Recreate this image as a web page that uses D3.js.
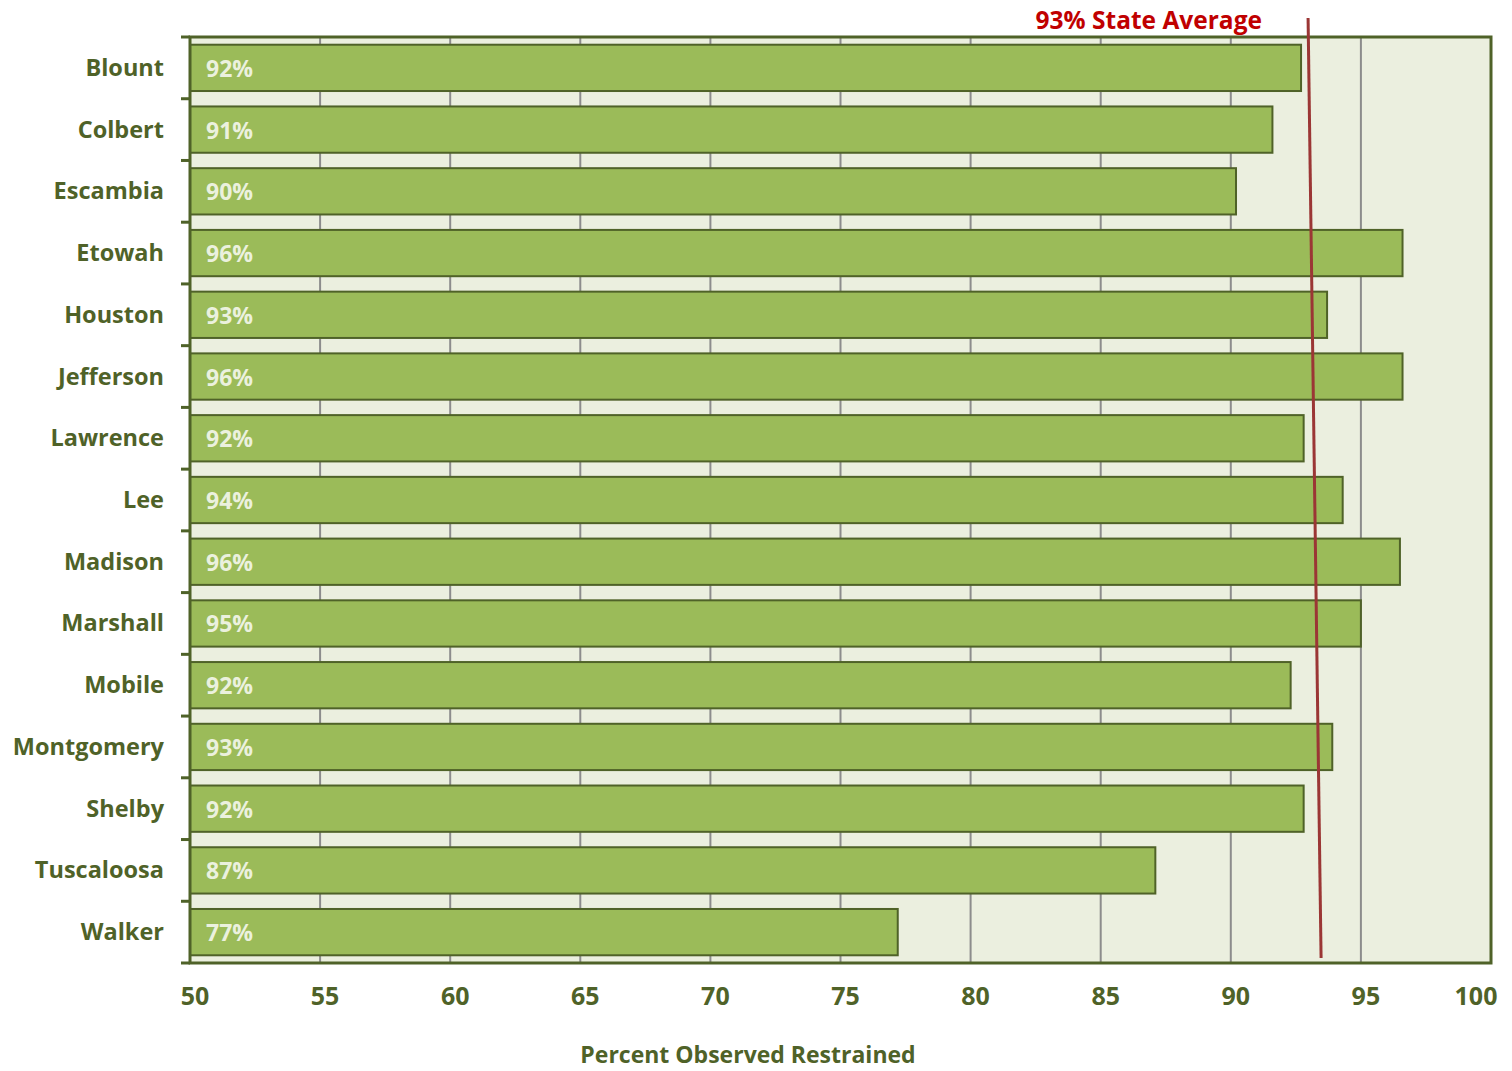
<!DOCTYPE html>
<html lang="en">
<head>
<meta charset="UTF-8">
<title>Percent Observed Restrained</title>
<script src="https://d3js.org/d3.v7.min.js"></script>
<style>
  body { margin:0; background:#fff; }
  text { font-family:"Open Sans", sans-serif; font-weight:bold; }
</style>
</head>
<body>
<div id="chart"></div>
<script>
// counties, top to bottom
var counties = ["Blount","Colbert","Escambia","Etowah","Houston","Jefferson","Lawrence","Lee",
                "Madison","Marshall","Mobile","Montgomery","Shelby","Tuscaloosa","Walker"];
// percent observed restrained
var rates = [92.7, 91.6, 90.2, 96.6, 93.7, 96.6, 92.8, 94.3, 96.5, 95.0, 92.3, 93.9, 92.8, 87.1, 77.2];
var xTicks = [50,55,60,65,70,75,80,85,90,95,100];
// the state average line is drawn slightly slanted in the original
var avgTop = 92.97, avgBottom = 93.47;
var avgLabel = "93% State Average";

var W = 1512, H = 1071;
var pLeft = 190, pRight = 1491, pTop = 37, pBottom = 963;

var svg = d3.select("#chart").append("svg").attr("width", W).attr("height", H);

var x = d3.scaleLinear().domain([50,100]).range([pLeft, pRight]);
var y = d3.scaleBand().domain(counties).range([pTop, pBottom]).paddingInner(0.25).paddingOuter(0.125);

// plot background
svg.append("rect").attr("x", pLeft).attr("y", pTop).attr("width", pRight-pLeft).attr("height", pBottom-pTop)
  .attr("fill", "#ebefdf");

// vertical gridlines
svg.append("g").selectAll("line").data(xTicks.slice(1, -1)).enter().append("line")
  .attr("x1", d => x(d)).attr("x2", d => x(d)).attr("y1", pTop).attr("y2", pBottom)
  .attr("stroke", "#8c8c8c").attr("stroke-width", 2);

// bars
svg.append("g").selectAll("rect").data(counties).enter().append("rect")
  .attr("x", x(50)).attr("y", d => y(d))
  .attr("width", (d,i) => x(rates[i]) - x(50)).attr("height", y.bandwidth())
  .attr("fill", "#9bbb59").attr("stroke", "#4f6228").attr("stroke-width", 2);

// value labels inside bars
svg.append("g").selectAll("text").data(counties).enter().append("text")
  .attr("x", x(50) + 16).attr("y", d => y(d) + y.bandwidth()/2 + 9)
  .attr("fill", "#ebf1de").attr("font-size", 23)
  .text((d,i) => Math.floor(rates[i]) + "%");

// frame
svg.append("rect").attr("x", pLeft).attr("y", pTop).attr("width", pRight-pLeft).attr("height", pBottom-pTop)
  .attr("fill", "none").attr("stroke", "#4f6228").attr("stroke-width", 3);

// left axis: category labels and boundary ticks
var step = y.step();
var bounds = d3.range(counties.length + 1).map(i => pTop + i*step);
svg.append("g").selectAll("line").data(bounds).enter().append("line")
  .attr("x1", pLeft - 9).attr("x2", pLeft).attr("y1", d => d).attr("y2", d => d)
  .attr("stroke", "#4f6228").attr("stroke-width", 3);
svg.append("g").selectAll("text").data(counties).enter().append("text")
  .attr("x", pLeft - 26).attr("y", d => y(d) + y.bandwidth()/2 + 8)
  .attr("text-anchor", "end").attr("fill", "#4f6228").attr("font-size", 23.5)
  .text(d => d);

// bottom tick labels
svg.append("g").selectAll("text").data(xTicks).enter().append("text")
  .attr("x", (d,i) => i === xTicks.length-1 ? x(d) - 15 : x(d) + 5)
  .attr("y", 1005).attr("text-anchor", "middle").attr("fill", "#4f6228").attr("font-size", 25)
  .text(d => d);

// axis title
svg.append("text").attr("x", 748).attr("y", 1063).attr("text-anchor", "middle")
  .attr("fill", "#4f6228").attr("font-size", 23).text("Percent Observed Restrained");

// state average line + label
svg.append("line")
  .attr("x1", x(avgTop)).attr("y1", 18).attr("x2", x(avgBottom)).attr("y2", pBottom - 5)
  .attr("stroke", "#9b3635").attr("stroke-width", 3);
svg.append("text").attr("x", 1262).attr("y", 29).attr("text-anchor", "end")
  .attr("fill", "#c00000").attr("font-size", 24.5).text(avgLabel);
</script>
</body>
</html>
